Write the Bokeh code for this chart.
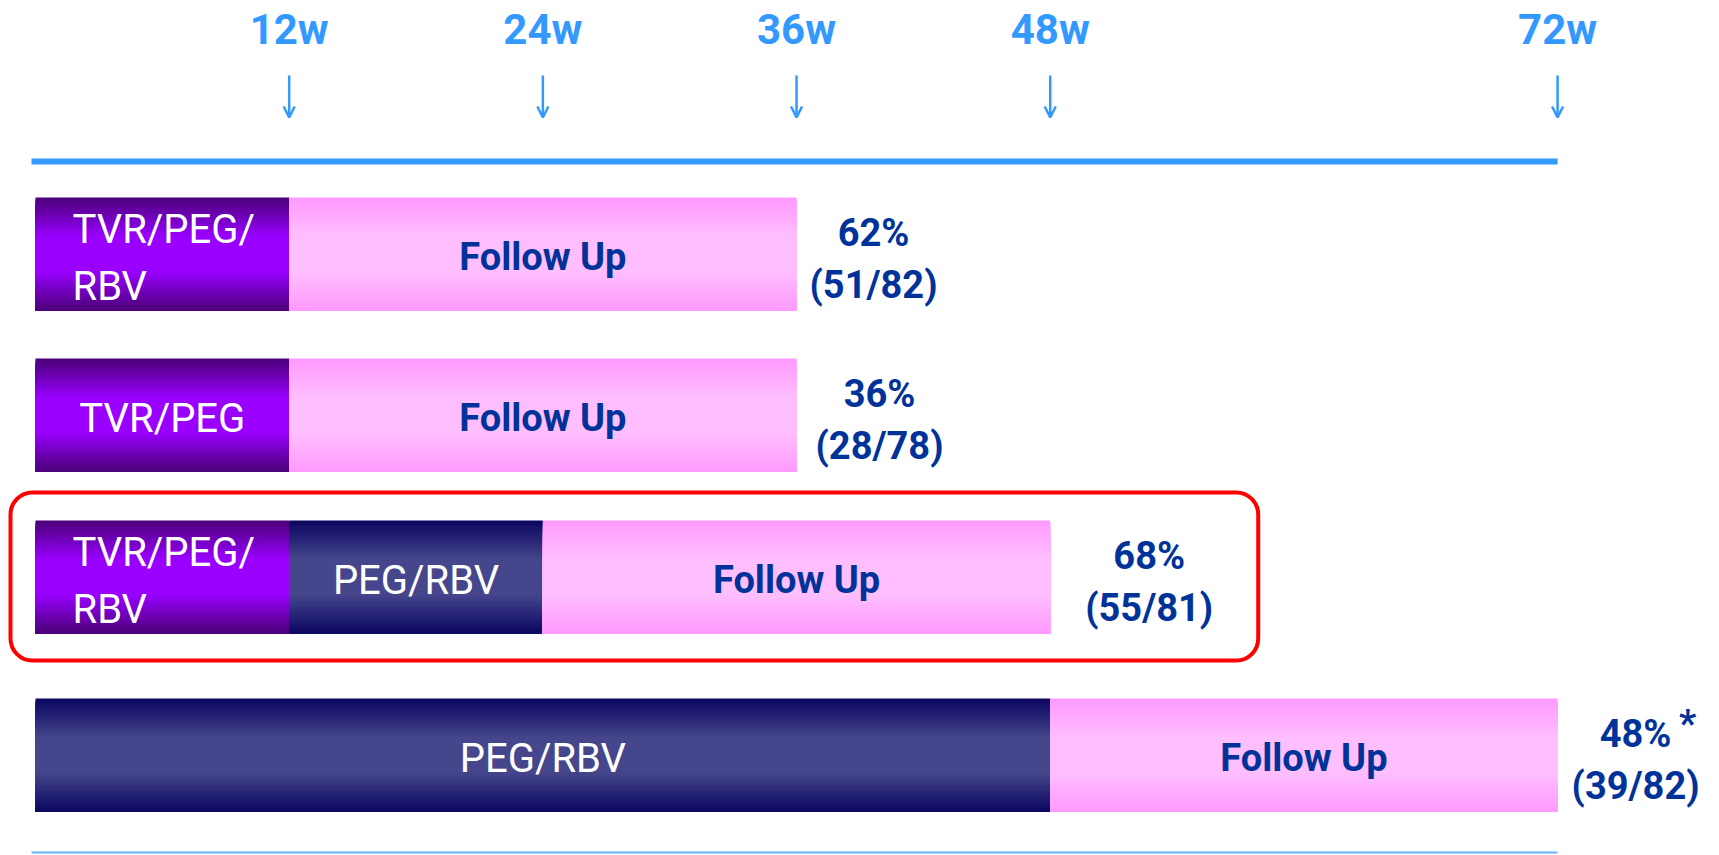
import numpy as np
from bokeh.plotting import figure
from bokeh.models import Range1d, BoxAnnotation, Arrow, OpenHead, ColumnDataSource
from bokeh.core.properties import value
from bokeh.embed import file_html
from bokeh.resources import INLINE

# ---------------- data ----------------
tick_weeks = [12, 24, 36, 48, 72]
tick_labels = ["12w", "24w", "36w", "48w", "72w"]

seg_arm = [0, 0, 1, 1, 2, 2, 2, 3, 3]
seg_start = [0, 12, 0, 12, 0, 12, 24, 0, 48]
seg_end = [12, 36, 12, 36, 12, 24, 48, 48, 72]
seg_kind = ["TVR", "FU", "TVR", "FU", "TVR", "PR", "FU", "PR", "FU"]
seg_label = ["TVR/PEG/\nRBV", "Follow Up", "TVR/PEG", "Follow Up",
             "TVR/PEG/\nRBV", "PEG/RBV", "Follow Up", "PEG/RBV", "Follow Up"]

svr_pct = ["62%", "36%", "68%", "48%"]
svr_frac = ["(51/82)", "(28/78)", "(55/81)", "(39/82)"]
svr_mark = ["", "", "", "*"]
highlight_arm = 2

# ---------------- layout / style ----------------
W, H = 1719, 855
PX_WEEK = 21.14
X0_PX = 35.0
FONT = "Roboto"
BLUE = "#3399FF"
NAVY_TXT = "#003399"

row_top = [197, 358, 520, 698]
BAR_H = 113
label_dx_px = [77, 83, 99, 78]

grad = {
    "TVR": ((74, 0, 120), (153, 0, 255)),
    "PR": ((10, 6, 96), (70, 70, 140)),
    "FU": ((255, 153, 255), (255, 190, 255)),
}
text_style = {
    "TVR": ("white", "normal", "40px"),
    "PR": ("white", "normal", "40px"),
    "FU": (NAVY_TXT, "bold", "38px"),
}

p = figure(width=W, height=H, output_backend="svg", toolbar_location=None,
           x_range=Range1d(-X0_PX / PX_WEEK, (W - X0_PX) / PX_WEEK),
           y_range=Range1d(H, 0), min_border=0)
p.axis.visible = False
p.grid.visible = False
p.outline_line_color = None
p.background_fill_color = "white"
p.border_fill_color = "white"

px = 1.0 / PX_WEEK

# top timeline line + bottom thin line
p.segment(x0=[-4 * px], y0=[161], x1=[tick_weeks[-1]], y1=[161],
          line_color=BLUE, line_width=6, line_cap="butt")
p.segment(x0=[-4 * px], y0=[852], x1=[tick_weeks[-1]], y1=[852],
          line_color="#66B2FF", line_width=2, line_cap="butt")

# week labels and arrows
p.text(x=tick_weeks, y=[29] * len(tick_weeks), text=tick_labels,
       text_font=value(FONT), text_font_size="42px", text_font_style="bold",
       text_color=BLUE, text_align="center", text_baseline="middle")
asrc = ColumnDataSource(dict(x=tick_weeks, y0=[75] * len(tick_weeks), y1=[117] * len(tick_weeks)))
p.add_layout(Arrow(source=asrc, x_start="x", y_start="y0", x_end="x", y_end="y1",
                   line_color=BLUE, line_width=2.5,
                   end=OpenHead(size=11, line_color=BLUE, line_width=2.5)))

# gradient bars (layered strips: each strip runs to the bar bottom, later ones cover lower part)
N = 56
L, R, T, B, C = [], [], [], [], []
for a, s, e, k in zip(seg_arm, seg_start, seg_end, seg_kind):
    top = row_top[a]
    edge, mid = grad[k]
    for i in range(N):
        t = (i + 0.5) / N
        f = min(1.0, 1.45 * (1 - abs(2 * t - 1)))
        col = tuple(int(round(edge[j] + (mid[j] - edge[j]) * f)) for j in range(3))
        L.append(s); R.append(e)
        T.append(top + BAR_H * i / N)
        B.append(top + BAR_H)
        C.append("#%02x%02x%02x" % col)
p.quad(left=L, right=R, top=T, bottom=B, fill_color=C, line_color=None)

# segment labels
for a, s, e, k, lab in zip(seg_arm, seg_start, seg_end, seg_kind, seg_label):
    cy = row_top[a] + BAR_H / 2
    color, style, size = text_style[k]
    lines = lab.split("\n")
    if len(lines) == 1:
        p.text(x=[(s + e) / 2], y=[cy + 3], text=lines,
               text_font=value(FONT), text_font_size=size, text_font_style=style,
               text_color=color, text_align="center", text_baseline="middle")
    else:
        p.text(x=[s + 37 * px] * 2, y=[cy - 25, cy + 32], text=lines,
               text_font=value(FONT), text_font_size=size, text_font_style=style,
               text_color=color, text_align="left", text_baseline="middle")

# SVR labels
arm_end = [max(e for aa, e in zip(seg_arm, seg_end) if aa == a) for a in range(len(svr_pct))]
for a in range(len(svr_pct)):
    cy = row_top[a] + BAR_H / 2
    lx = arm_end[a] + label_dx_px[a] * px
    p.text(x=[lx, lx], y=[cy - 21, cy + 31], text=[svr_pct[a], svr_frac[a]],
           text_font=value(FONT), text_font_size="38px", text_font_style="bold",
           text_color=NAVY_TXT, text_align="center", text_baseline="middle")
    if svr_mark[a]:
        p.text(x=[lx + 52 * px], y=[cy - 31], text=[svr_mark[a]],
               text_font=value(FONT), text_font_size="38px", text_font_style="bold",
               text_color=NAVY_TXT, text_align="center", text_baseline="middle")

# highlight box around arm 3
hy0 = row_top[highlight_arm] - 28
hy1 = row_top[highlight_arm] + BAR_H + 27
p.add_layout(BoxAnnotation(left=-25 * px, right=arm_end[highlight_arm] + 208 * px,
                           top=hy0, bottom=hy1, fill_alpha=0, line_color="#FF0000",
                           line_alpha=1.0, line_width=4, border_radius=22))

open("out.html", "w").write(file_html(p, INLINE))
